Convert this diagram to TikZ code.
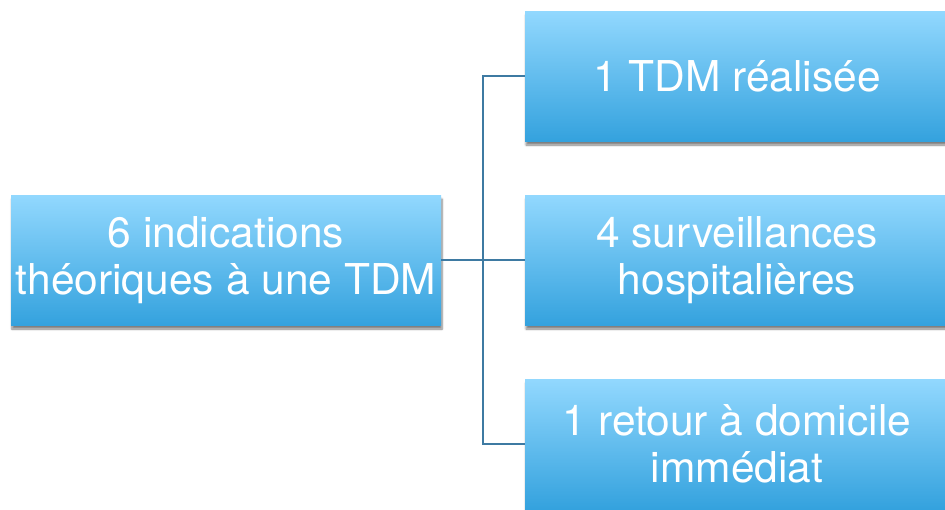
\documentclass[tikz,border=0pt]{standalone}
\usepackage{fontspec}
\setmainfont{TeX Gyre Heros}
\usetikzlibrary{shadows.blur}
\definecolor{boxtop}{RGB}{146,216,254}
\definecolor{boxbot}{RGB}{52,162,222}
\definecolor{linkc}{RGB}{62,122,162}
\begin{document}
\begin{tikzpicture}[x=1pt,y=-1pt,
  box/.style={rectangle, minimum width=430pt, minimum height=130pt, inner sep=0pt,
    top color=boxtop, bottom color=boxbot, text=white, align=center,
    font=\fontsize{42.5}{46.5}\selectfont,
    blur shadow={shadow xshift=1pt, shadow yshift=-4pt, shadow blur steps=6, shadow opacity=50}},
  link/.style={draw=linkc, line width=2pt}]
\useasboundingbox (0,0) rectangle (945,509);
\node[box, minimum width=430pt] (src) at (226,260) {6 indications\\théoriques à une TDM};
\node[box, minimum width=424pt] (a) at (737,76) {1 TDM réalisée};
\node[box, minimum width=424pt] (b) at (737,260) {4 surveillances\\hospitalières};
\node[box, minimum width=424pt] (c) at (737,444) {1 retour à domicile\\immédiat};
\coordinate (j) at (483,260);
\draw[link] (src.east) -- (j);
\draw[link] (j) |- (a.west);
\draw[link] (j) -- (b.west);
\draw[link] (j) |- (c.west);
\end{tikzpicture}
\end{document}
